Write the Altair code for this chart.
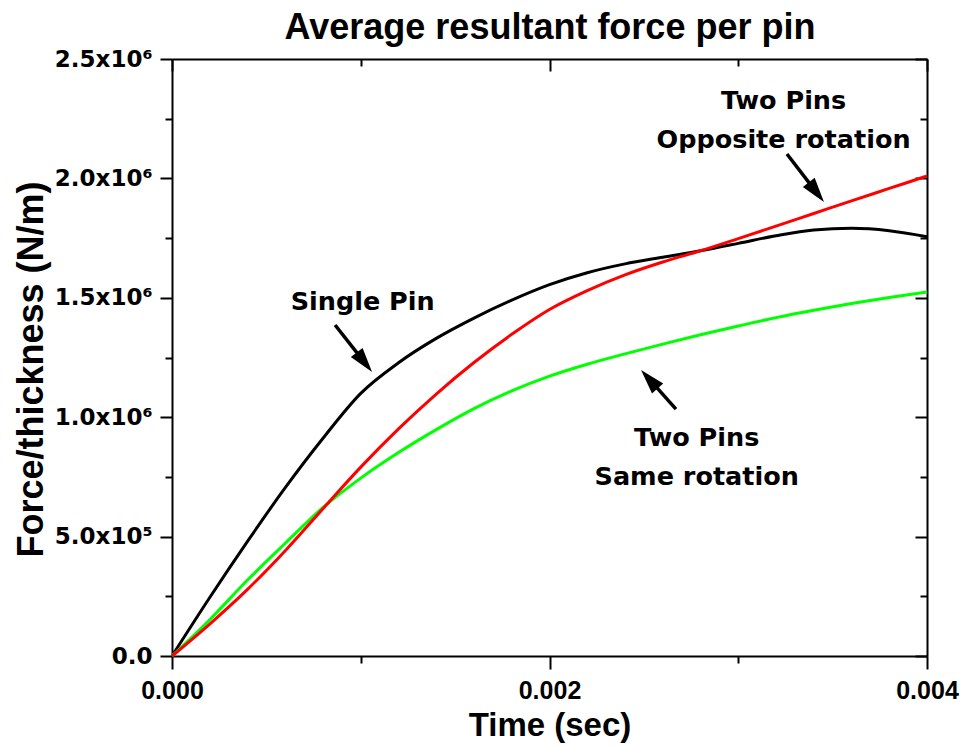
import math

import altair as alt
import pandas as pd

# ---------------------------------------------------------------------------
# Data: average resultant force per unit thickness (N/m) against time (s)
# ---------------------------------------------------------------------------
time_s = [0.0000, 0.0002, 0.0004, 0.0006, 0.0008, 0.0010, 0.0012, 0.0014,
          0.0016, 0.0018, 0.0020, 0.0022, 0.0024, 0.0026, 0.0028, 0.0030,
          0.0032, 0.0034, 0.0036, 0.0038, 0.0040]

single_pin = [0, 245000, 480000, 705000, 912000, 1100000, 1228000, 1330000,
              1415000, 1490000, 1555000, 1605000, 1642000, 1670000, 1697000,
              1728000, 1760000, 1784000, 1791000, 1781000, 1756000]

two_pins_opposite = [0, 134000, 279000, 441000, 617000, 791000, 951000,
                     1097000, 1229000, 1347000, 1451000, 1530000, 1596000,
                     1650000, 1697000, 1748000, 1800000, 1853000, 1906000,
                     1958000, 2010000]

two_pins_same = [0, 152000, 318000, 472000, 622000, 745000, 852000, 948000,
                 1036000, 1110000, 1172000, 1222000, 1265000, 1306000,
                 1345000, 1382000, 1417000, 1448000, 1476000, 1501000,
                 1524000]

# Axis ticks (majors carry labels, the others are minor ticks)
x_tick_values = [0.000, 0.001, 0.002, 0.003, 0.004]
x_tick_labels = ["0.000", "", "0.002", "", "0.004"]
y_tick_values = [0, 250000, 500000, 750000, 1000000, 1250000, 1500000,
                 1750000, 2000000, 2250000, 2500000]
y_tick_labels = ["0.0", "", "5.0x10\u2075", "", "1.0x10\u2076", "",
                 "1.5x10\u2076", "", "2.0x10\u2076", "", "2.5x10\u2076"]

# Curve annotations (one row per text line)
note_text = ["Single Pin", "Two Pins", "Opposite rotation", "Two Pins",
             "Same rotation"]
note_time = [0.00101, 0.00324, 0.00324, 0.00278, 0.00278]
note_force = [1449000, 2291000, 2128000, 879000, 716000]

# Arrows: tail -> tip
arrow_tail_time = [0.000864, 0.003258, 0.002670]
arrow_tail_force = [1386000, 2102000, 1034000]
arrow_tip_time = [0.001060, 0.003454, 0.002485]
arrow_tip_force = [1189000, 1901000, 1198000]

CHART_TITLE = "Average resultant force per pin"

# ---------------------------------------------------------------------------
# Layout
# ---------------------------------------------------------------------------
W, H = 755, 597
X_DOMAIN = [0.0, 0.004]
Y_DOMAIN = [0, 2500000]
x_scale = alt.Scale(domain=X_DOMAIN, nice=False, zero=False)
y_scale = alt.Scale(domain=Y_DOMAIN, nice=False)

BOLD_SANS = "Liberation Sans"
BOLD_WIDE = "DejaVu Sans"


def label_expr(values, labels):
    expr = "''"
    for v, lab in reversed(list(zip(values, labels))):
        tol = 1e-12 + abs(v) * 1e-9
        expr = f"(abs(datum.value - {v}) < {tol}) ? '{lab}' : {expr}"
    return expr


x_minor_test = "abs(datum.value * 1000 - 2 * round(datum.value * 500)) > 0.01"
y_minor_test = "abs(datum.value / 250000 - 2 * round(datum.value / 500000)) > 0.01"


def tick_size(test, major, minor):
    return {"condition": {"test": test, "value": minor}, "value": major}


common_axis = dict(grid=False, domainColor="black", domainWidth=2,
                   tickColor="black", tickWidth=2)

x_axis_main = alt.Axis(
    orient="bottom", values=x_tick_values,
    labelExpr=label_expr(x_tick_values, x_tick_labels),
    tickSize=tick_size(x_minor_test, 13, 7),
    labelFont=BOLD_SANS, labelFontWeight="bold", labelFontSize=25,
    labelColor="black", labelPadding=9, labelFlush=False, labelOverlap=False,
    title="Time (sec)", titleFont=BOLD_SANS, titleFontWeight="bold",
    titleFontSize=33, titleColor="black", titleX=W / 2, titleY=79,
    titleAlign="center", titleBaseline="alphabetic", **common_axis)

y_axis_main = alt.Axis(
    orient="left", values=y_tick_values,
    labelExpr=label_expr(y_tick_values, y_tick_labels),
    tickSize=tick_size(y_minor_test, 12, 7),
    labelFont=BOLD_WIDE, labelFontWeight="bold", labelFontSize=23,
    labelColor="black", labelPadding=8, labelOverlap=False,
    title="Force/thickness (N/m)", titleFont=BOLD_SANS,
    titleFontWeight="bold", titleFontSize=36, titleColor="black",
    titleAngle=270, titleX=-130, titleY=310, titleAlign="center",
    titleBaseline="alphabetic", **common_axis)

# Frame on the top edge (inward ticks); it also carries the chart heading
x_axis_top = alt.Axis(
    orient="bottom", offset=-H, values=x_tick_values, labels=False,
    tickSize=tick_size(x_minor_test, 12, 7),
    title=CHART_TITLE, titleFont=BOLD_SANS, titleFontWeight="bold",
    titleFontSize=36, titleColor="black", titleX=W / 2, titleY=-21,
    titleAlign="center", titleBaseline="alphabetic", **common_axis)

# Frame on the right edge, ticks pointing inward
y_axis_right = alt.Axis(orient="left", offset=-W, values=y_tick_values,
                        labels=False, title="",
                        tickSize=tick_size(y_minor_test, 12, 7), **common_axis)

# ---------------------------------------------------------------------------
# Tables
# ---------------------------------------------------------------------------
curves = pd.DataFrame({"time": time_s, "single": single_pin,
                       "opposite": two_pins_opposite, "same": two_pins_same})

notes = pd.DataFrame({"text": note_text, "time": note_time,
                      "force": note_force})

px_per_t = W / (X_DOMAIN[1] - X_DOMAIN[0])
px_per_f = H / (Y_DOMAIN[1] - Y_DOMAIN[0])
arrow_rows = []
for t0, f0, t1, f1 in zip(arrow_tail_time, arrow_tail_force,
                          arrow_tip_time, arrow_tip_force):
    dx = (t1 - t0) * px_per_t
    dy = -(f1 - f0) * px_per_f
    angle = math.degrees(math.atan2(dx, -dy)) % 360
    arrow_rows.append({
        "t0": t0, "f0": f0, "t1": t1, "f1": f1,
        # shaft stops under the head so the point stays sharp
        "ts": t0 + 0.7 * (t1 - t0), "fs": f0 + 0.7 * (f1 - f0),
        "angle": angle,
    })
arrows = pd.DataFrame(arrow_rows)

# ---------------------------------------------------------------------------
# Layers
# ---------------------------------------------------------------------------
base = alt.Chart(curves)


def curve(field, color, x_axis=None, y_axis=None):
    return base.mark_line(color=color, strokeWidth=3, interpolate="monotone").encode(
        x=alt.X("time:Q", scale=x_scale, axis=x_axis),
        y=alt.Y(f"{field}:Q", scale=y_scale, axis=y_axis),
    )


black_line = curve("single", "#000000", x_axis_main, y_axis_main)
green_line = curve("same", "#00ff00")
red_line = curve("opposite", "#ff0000")

shafts = alt.Chart(arrows).mark_rule(color="black", strokeWidth=3.5).encode(
    x=alt.X("t0:Q", scale=x_scale, axis=None),
    y=alt.Y("f0:Q", scale=y_scale, axis=None),
    x2="ts:Q", y2="fs:Q",
)

heads = alt.Chart(arrows).mark_point(
    shape="M0,0L-0.6,2L0.6,2Z", filled=True, size=620, color="black",
    opacity=1, strokeWidth=0,
).encode(
    x=alt.X("t1:Q", scale=x_scale, axis=None),
    y=alt.Y("f1:Q", scale=y_scale, axis=None),
    angle=alt.Angle("angle:Q", scale=None),
)

labels = alt.Chart(notes).mark_text(
    font=BOLD_WIDE, fontWeight="bold", fontSize=25.5, color="black",
    align="center", baseline="alphabetic",
).encode(
    x=alt.X("time:Q", scale=x_scale, axis=x_axis_top),
    y=alt.Y("force:Q", scale=y_scale, axis=y_axis_right),
    text="text:N",
)

chart = alt.layer(
    black_line, green_line, red_line, shafts, heads, labels
).resolve_axis(
    x="independent", y="independent"
).properties(
    width=W, height=H,
    padding={"left": 172, "top": 59, "right": 39, "bottom": 92},
    autosize="none",
    background="white",
).configure_view(stroke=None)

chart.save("out.html", embed_options={"renderer": "svg", "actions": False})
